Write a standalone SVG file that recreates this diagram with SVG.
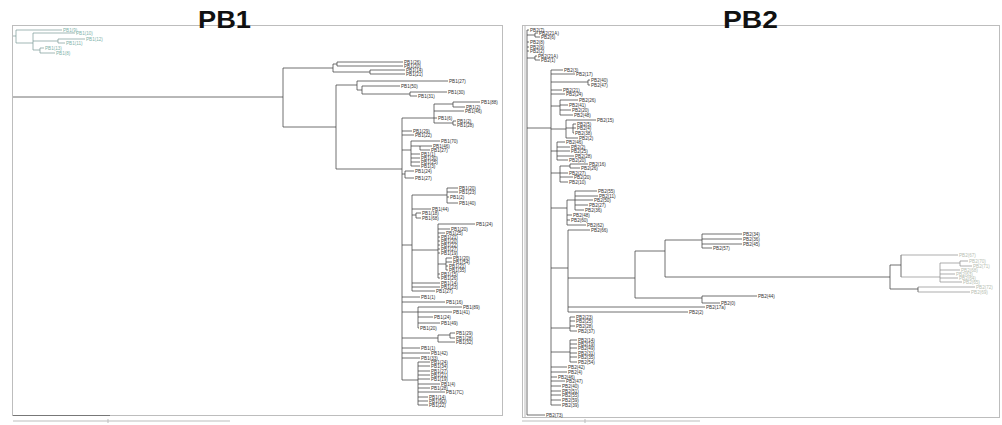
<svg xmlns="http://www.w3.org/2000/svg" width="1002" height="425" viewBox="0 0 1002 425">
<style>
.ln{fill:none;stroke:#404040;stroke-width:.75}
.lt{fill:none;stroke:#7a9a96;stroke-width:.7}
.lf{fill:none;stroke:#8a8a8a;stroke-width:.7}
.fr{fill:none;stroke:#bdbdbd;stroke-width:1}
.t{font-family:"Liberation Sans",Arial,sans-serif;font-size:4.6px;fill:#333}
.tl{font-family:"Liberation Sans",Arial,sans-serif;font-size:4.6px;fill:#7fb2a9}
.tf{font-family:"Liberation Sans",Arial,sans-serif;font-size:4.6px;fill:#b7c0b2}
.ttl{font-family:"Liberation Sans",Arial,sans-serif;font-weight:bold;font-size:24px;fill:#111}
</style>
<rect width="1002" height="425" fill="#fff"/>
<g id="frames">
<rect class="fr" x="12.5" y="25.5" width="490" height="390"/>
<path class="fr" d="M13 421H230M108 419V423"/>
<path d="M13 415.5H110" stroke="#777" stroke-width="1"/>
<rect class="fr" x="522.5" y="25.5" width="477" height="392"/>
<path class="fr" d="M525 26V417M522 421H700M585 419V423"/>
</g>
<g id="titles">
<text class="ttl" x="198" y="28" textLength="53" lengthAdjust="spacingAndGlyphs">PB1</text>
<text class="ttl" x="723" y="28" textLength="55" lengthAdjust="spacingAndGlyphs">PB2</text>
</g>
<g id="connectors">
<path class="lt" d="M13 36H16M16 30V43M16 30H62M16 43H33M33 33V50M33 33H75M33 41H58M58 39V43M58 39H85M58 43H65M33 50H40M40 48V53M40 48H44M40 53H55"/>
<path class="ln" d="M13 97H283M283 68V127M283 68H333M333 64V72M333 64H337M337 62V66M337 62H403M337 66H403M333 72H370M370 70V74M370 70H405M370 74H405
M283 127H336M336 85V169M336 85H357M357 81V90M357 81H448M357 90H362M362 86V94M362 86H400M362 94H410M410 92V96M410 92H447M410 96H417
M336 169H402M402 118V380
M402 118H434M434 104V123M434 104H453M453 102V107M453 102H480M453 107H465M434 111H464M434 118H437M434 123H453M453 121V125M453 121H456M453 125H456
M402 131H412M402 135H414
M402 150H411M411 141V166M411 141H440M411 146H420M420 146V150M420 146H432M420 150H430M411 154H420M411 158H420M411 162H420M411 166H420
M402 174H405M405 171V178M405 171H414M405 178H414
M402 245H412M412 195V291M412 195H447M447 188V203M447 188H458M447 192H458M447 197H449M447 203H458
M412 209H431M412 215H416M416 213V218M416 213H421M416 218H421
M412 250H438M438 224V278M438 224H475M438 229H450M438 233H445M438 237H440M438 241H440M438 245H440M438 249H440M438 253H440M438 264H446M446 258V270M446 258H452M446 262H452M446 266H448M446 270H448M438 274H440M438 278H440
M412 283H440M412 287H440M412 291H435
M402 297H420M402 302H445
M402 312H418M418 307V328M418 307H462M418 312H452M418 317H433M418 323H440M418 328H419
M402 338H438M438 335V342M438 335H450M450 333V338M450 333H455M450 338H455M438 342H455
M402 348H420M402 353H430M402 358H420
M402 380H418M418 362V405M418 362H430M418 366H430M418 371H430M418 375H430M418 379H430M418 384H440M418 388H430M418 392H445M418 397H428M418 401H428M418 405H428"/>
<path class="ln" d="M527 30V415M527 30H529M527 35H535M535 33V37M535 33H538M535 37H540M527 42H529M527 47H529M527 51H529M527 58H535M535 56V60M535 56H537M535 60H540
M527 128H551M527 415H545M551 70V405
M551 70H563M551 74H575M551 82H588M588 80V85M588 80H590M588 85H590M551 90H562M551 94H565
M551 106H560M560 100V115M560 100H578M560 105H568M560 110H571M560 115H573
M551 129H566M566 120V138M566 120H596M566 128H573M573 124V133M573 124H576M573 128H576M573 133H574M566 138H578
M551 151H557M557 142V160M557 142H565M557 147H570M557 151H570M557 156H574M557 160H568
M551 173H560M560 166V182M560 166H570M570 164V168M570 164H588M570 168H580M560 173H568M560 177H573M560 182H568
M551 208H567M567 200V225M567 200H575M575 191V210M575 191H597M575 196H598M575 200H593M575 205H588M575 210H584M567 215H572M567 220H570M567 225H586
M551 268H568M568 230V312M568 230H590M568 278H635M635 251V298M635 251H665M665 240V277M665 240H702M702 234V248M702 234H742M702 239H742M702 244H742M702 248H712
M665 277H890M890 265V289M890 265H901M901 255V277M890 289H918M918 287V292
M635 298H702M702 296V303M702 296H757M702 303H720M568 307H705M568 312H688
M551 328H570M570 317V331M570 317H575M570 321H575M570 326H575M570 331H577
M551 352H570M570 340V362M570 340H577M570 344H577M570 348H577M570 353H577M570 357H577M570 362H577
M551 367H567M551 372H567M551 377H557M551 381H565M551 386H561M551 391H561M551 395H561M551 400H561M551 405H561"/>
<path class="lf" d="M901 255H958M901 277H940M940 263V282M940 263H960M960 261V266M960 261H968M960 266H972M940 270H960M940 274H955M940 278H958M940 282H962M918 287H975M918 292H970"/>
</g>
<g id="pb1-outgroup">
<text class="tl" x="63" y="31.5">PB1(9)</text><text class="tl" x="76" y="34.5">PB1(10)</text><text class="tl" x="86" y="40.5">PB1(12)</text><text class="tl" x="66" y="44.5">PB1(11)</text><text class="tl" x="45" y="49.5">PB1(13)</text><text class="tl" x="56" y="54.5">PB1(8)</text>
</g>
<g id="pb1-leaves">
<text class="t" x="404" y="63.5">PB1(26)</text><text class="t" x="404" y="67.5">PB1(20)</text><text class="t" x="406" y="71.5">PB1(14)</text><text class="t" x="406" y="75.5">PB1(21)</text>
<text class="t" x="449" y="82.5">PB1(27)</text><text class="t" x="401" y="87.5">PB1(50)</text><text class="t" x="448" y="93.5">PB1(30)</text><text class="t" x="418" y="97.5">PB1(31)</text>
<text class="t" x="481" y="103.5">PB1(88)</text><text class="t" x="466" y="108.5">PB1(2)</text><text class="t" x="465" y="112.5">PB1(46)</text><text class="t" x="438" y="119.5">PB1(6)</text><text class="t" x="457" y="122.5">PB1(2)</text><text class="t" x="457" y="126.5">PB1(28)</text>
<text class="t" x="413" y="132.5">PB1(29)</text><text class="t" x="415" y="136.5">PB1(22)</text>
<text class="t" x="441" y="142.5">PB1(70)</text><text class="t" x="433" y="147.5">PB1(46)</text><text class="t" x="431" y="151.5">PB1(27)</text><text class="t" x="421" y="155.5">PB1(1)</text><text class="t" x="421" y="159.5">PB1(30)</text><text class="t" x="421" y="163.5">PB1(25)</text><text class="t" x="421" y="167.5">PB1(3)</text>
<text class="t" x="415" y="172.5">PB1(24)</text><text class="t" x="415" y="179.5">PB1(27)</text>
<text class="t" x="459" y="189.5">PB1(20)</text><text class="t" x="459" y="193.5">PB1(23)</text><text class="t" x="450" y="198.5">PB1(2)</text><text class="t" x="459" y="204.5">PB1(40)</text>
<text class="t" x="432" y="210.5">PB1(44)</text><text class="t" x="422" y="214.5">PB1(18)</text><text class="t" x="422" y="219.5">PB1(68)</text>
<text class="t" x="476" y="225.5">PB1(24)</text><text class="t" x="451" y="230.5">PB1(20)</text><text class="t" x="446" y="234.5">PB1(25)</text><text class="t" x="441" y="238.5">PB1(21)</text><text class="t" x="441" y="242.5">PB1(20)</text><text class="t" x="441" y="246.5">PB1(22)</text><text class="t" x="441" y="250.5">PB1(27)</text><text class="t" x="441" y="254.5">PB1(19)</text><text class="t" x="453" y="259.5">PB1(20)</text><text class="t" x="453" y="263.5">PB1(54)</text><text class="t" x="449" y="267.5">PB1(21)</text><text class="t" x="449" y="271.5">PB1(35)</text><text class="t" x="441" y="275.5">PB1(15)</text><text class="t" x="441" y="279.5">PB1(26)</text>
<text class="t" x="441" y="284.5">PB1(14)</text><text class="t" x="441" y="288.5">PB1(23)</text><text class="t" x="436" y="292.5">PB1(27)</text>
<text class="t" x="421" y="298.5">PB1(1)</text><text class="t" x="446" y="303.5">PB1(16)</text>
<text class="t" x="463" y="308.5">PB1(89)</text><text class="t" x="453" y="313.5">PB1(41)</text><text class="t" x="434" y="318.5">PB1(24)</text><text class="t" x="441" y="324.5">PB1(49)</text><text class="t" x="420" y="329.5">PB1(20)</text>
<text class="t" x="456" y="334.5">PB1(29)</text><text class="t" x="456" y="339.5">PB1(28)</text><text class="t" x="456" y="343.5">PB1(32)</text>
<text class="t" x="421" y="349.5">PB1(1)</text><text class="t" x="431" y="354.5">PB1(42)</text><text class="t" x="421" y="359.5">PB1(33)</text>
<text class="t" x="431" y="363.5">PB1(24)</text><text class="t" x="431" y="367.5">PB1(34)</text><text class="t" x="431" y="372.5">PB1(27)</text><text class="t" x="431" y="376.5">PB1(21)</text><text class="t" x="431" y="380.5">PB1(19)</text><text class="t" x="441" y="385.5">PB1(4)</text><text class="t" x="431" y="389.5">PB1(28)</text><text class="t" x="446" y="393.5">PB1(7C)</text><text class="t" x="429" y="398.5">PB1(14)</text><text class="t" x="429" y="402.5">PB1(9D)</text><text class="t" x="429" y="406.5">PB1(22)</text>
</g>
<g id="pb2-leaves">
<text class="t" x="530" y="31.5">PB2(7)</text><text class="t" x="539" y="34.5">PB2(21A)</text><text class="t" x="541" y="38.5">PB2(6)</text><text class="t" x="530" y="43.5">PB2(8)</text><text class="t" x="530" y="48.5">PB2(9)</text><text class="t" x="530" y="52.5">PB2(2)</text><text class="t" x="538" y="57.5">PB2(21A)</text><text class="t" x="541" y="61.5">PB2(1)</text>
<text class="t" x="564" y="71.5">PB2(3)</text><text class="t" x="576" y="75.5">PB2(17)</text><text class="t" x="591" y="81.5">PB2(40)</text><text class="t" x="591" y="86.5">PB2(47)</text>
<text class="t" x="563" y="91.5">PB2(21)</text><text class="t" x="566" y="95.5">PB2(24)</text>
<text class="t" x="579" y="101.5">PB2(26)</text><text class="t" x="569" y="106.5">PB2(41)</text><text class="t" x="572" y="111.5">PB2(20)</text><text class="t" x="574" y="116.5">PB2(48)</text>
<text class="t" x="597" y="121.5">PB2(15)</text><text class="t" x="577" y="125.5">PB2(5)</text><text class="t" x="577" y="129.5">PB2(4)</text><text class="t" x="575" y="134.5">PB2(38)</text><text class="t" x="579" y="139.5">PB2(2)</text>
<text class="t" x="566" y="143.5">PB2(46)</text><text class="t" x="571" y="148.5">PB2(2)</text><text class="t" x="571" y="152.5">PB2(25)</text><text class="t" x="575" y="157.5">PB2(28)</text><text class="t" x="569" y="161.5">PB2(20)</text>
<text class="t" x="589" y="165.5">PB2(16)</text><text class="t" x="581" y="169.5">PB2(26)</text><text class="t" x="569" y="174.5">PB2(27)</text><text class="t" x="574" y="178.5">PB2(20)</text><text class="t" x="569" y="183.5">PB2(10)</text>
<text class="t" x="598" y="192.5">PB2(55)</text><text class="t" x="599" y="197.5">PB2(11)</text><text class="t" x="594" y="201.5">PB2(50)</text><text class="t" x="589" y="206.5">PB2(27)</text><text class="t" x="585" y="211.5">PB2(36)</text>
<text class="t" x="573" y="216.5">PB2(48)</text><text class="t" x="571" y="221.5">PB2(60)</text><text class="t" x="587" y="226.5">PB2(62)</text><text class="t" x="591" y="231.5">PB2(66)</text>
<text class="t" x="743" y="235.5">PB2(34)</text><text class="t" x="743" y="240.5">PB2(36)</text><text class="t" x="743" y="245.5">PB2(45)</text><text class="t" x="713" y="249.5">PB2(57)</text>
<text class="t" x="758" y="297.5">PB2(44)</text><text class="t" x="721" y="304.5">PB2(0)</text><text class="t" x="706" y="308.5">PB2(17a)</text><text class="t" x="689" y="313.5">PB2(2)</text>
<text class="t" x="576" y="318.5">PB2(23)</text><text class="t" x="576" y="322.5">PB2(25)</text><text class="t" x="576" y="327.5">PB2(28)</text><text class="t" x="578" y="332.5">PB2(37)</text>
<text class="t" x="578" y="341.5">PB2(14)</text><text class="t" x="578" y="345.5">PB2(19)</text><text class="t" x="578" y="349.5">PB2(49)</text><text class="t" x="578" y="354.5">PB2(31)</text><text class="t" x="578" y="358.5">PB2(35)</text><text class="t" x="578" y="363.5">PB2(54)</text>
<text class="t" x="568" y="368.5">PB2(42)</text><text class="t" x="568" y="373.5">PB2(4)</text><text class="t" x="558" y="378.5">PB2(46)</text><text class="t" x="566" y="382.5">PB2(47)</text><text class="t" x="562" y="387.5">PB2(40)</text><text class="t" x="562" y="392.5">PB2(51)</text><text class="t" x="562" y="396.5">PB2(55)</text><text class="t" x="562" y="401.5">PB2(59)</text><text class="t" x="562" y="406.5">PB2(39)</text>
<text class="t" x="546" y="416.5">PB2(73)</text>
</g>
<g id="pb2-outgroup">
<text class="tf" x="959" y="256.5">PB2(67)</text><text class="tf" x="969" y="262.5">PB2(70)</text><text class="tf" x="973" y="267.5">PB2(71)</text><text class="tf" x="961" y="271.5">PB2(68)</text><text class="tf" x="956" y="275.5">PB2(63)</text><text class="tf" x="959" y="279.5">PB2(64)</text><text class="tf" x="963" y="283.5">PB2(65)</text><text class="tf" x="976" y="288.5">PB2(72)</text><text class="tf" x="971" y="293.5">PB2(69)</text>
</g>
</svg>
